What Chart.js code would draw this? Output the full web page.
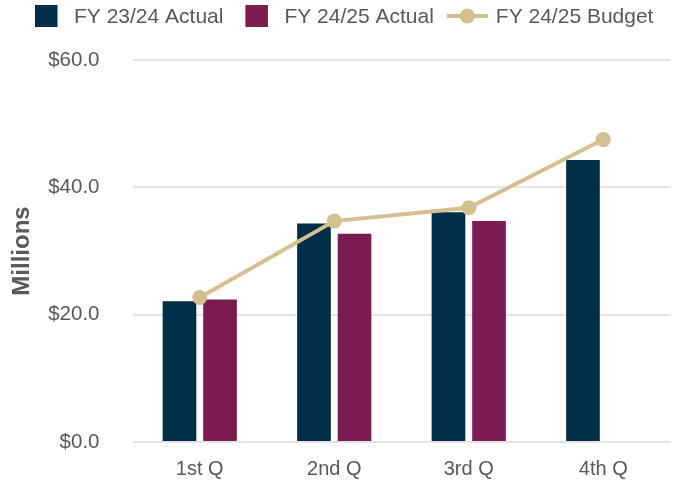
<!DOCTYPE html>
<html>
<head>
<meta charset="utf-8">
<script src="https://cdn.jsdelivr.net/npm/chart.js@4.4.1/dist/chart.umd.min.js"></script>
<style>
    html, body { margin: 0; padding: 0; background: #ffffff; overflow: hidden; }
    canvas { display: block; }
</style>
</head>
<body>
<canvas id="quarter-chart" width="678" height="482"></canvas>
<script>
const quarters = ['1st Q', '2nd Q', '3rd Q', '4th Q'];
const seriesNames = ['FY 23/24 Actual', 'FY 24/25 Actual', 'FY 24/25 Budget'];
const actual2324 = [22.1, 34.3, 36.1, 44.3];
const actual2425 = [22.4, 32.7, 34.7, null];
const budget2425 = [22.7, 34.7, 36.8, 47.5];
const yTicks = [0, 20, 40, 60];

const fontFamily = "'Liberation Sans', Arial, sans-serif";
const textGray = '#595959';
const navy = '#002e48';
const maroon = '#7b1b4f';
const gold = '#d4c08f';

// legend drawn by hand so box / line symbols and gaps match the original
const topLegend = {
    id: 'topLegend',
    afterDraw: (chart) => {
        const ctx = chart.ctx;
        const cy = 16;
        let x = 35;
        ctx.save();
        ctx.font = `21px ${fontFamily}`;
        ctx.textBaseline = 'middle';
        chart.data.datasets.forEach((ds, i) => {
            if (ds.type === 'line') {
                if (i > 0) x += 13;
                ctx.strokeStyle = ds.borderColor;
                ctx.lineWidth = ds.borderWidth;
                ctx.beginPath();
                ctx.moveTo(x, cy);
                ctx.lineTo(x + 41, cy);
                ctx.stroke();
                ctx.fillStyle = ds.pointBackgroundColor;
                ctx.beginPath();
                ctx.arc(x + 20.5, cy, ds.pointRadius, 0, Math.PI * 2);
                ctx.fill();
                x += 41 + 8;
            } else {
                if (i > 0) x += 22;
                ctx.fillStyle = ds.backgroundColor;
                ctx.fillRect(x, cy - 11, 22.5, 22);
                x += 22.5 + 16.5;
            }
            ctx.fillStyle = textGray;
            ctx.fillText(ds.label, x, cy + 1);
            x += ctx.measureText(ds.label).width;
        });
        ctx.restore();
    }
};

const ctx = document.getElementById('quarter-chart').getContext('2d');
new Chart(ctx, {
    type: 'bar',
    data: {
        labels: quarters,
        datasets: [
            {
                type: 'bar',
                label: seriesNames[0],
                data: actual2324,
                backgroundColor: navy,
                order: 1,
                categoryPercentage: 0.603,
                barPercentage: 0.83
            },
            {
                type: 'bar',
                label: seriesNames[1],
                data: actual2425,
                backgroundColor: maroon,
                order: 2,
                categoryPercentage: 0.603,
                barPercentage: 0.83
            },
            {
                type: 'line',
                label: seriesNames[2],
                data: budget2425,
                borderColor: gold,
                borderWidth: 4,
                pointBackgroundColor: gold,
                pointBorderColor: gold,
                pointBorderWidth: 0,
                pointRadius: 7.5,
                tension: 0,
                order: 0
            }
        ]
    },
    options: {
        responsive: false,
        animation: false,
        devicePixelRatio: 1,
        layout: { padding: { top: 60, right: 2, bottom: 1, left: 0 } },
        plugins: {
            legend: { display: false },
            tooltip: { enabled: false }
        },
        scales: {
            x: {
                afterFit: (scale) => { scale.height = 39; },
                grid: { display: false, drawTicks: false },
                border: { display: false },
                ticks: { color: textGray, padding: 15, font: { family: fontFamily, size: 20 } }
            },
            y: {
                min: 0,
                max: 60,
                // tick padding would otherwise leak into the vertical layout padding
                afterFit: (scale) => {
                    scale.width = 132.5;
                    scale.paddingTop = 0;
                    scale.paddingBottom = 0;
                },
                afterBuildTicks: (scale) => { scale.ticks = yTicks.map(v => ({ value: v })); },
                grid: { color: '#e4e4e4', lineWidth: 2, drawTicks: false },
                border: { display: false },
                ticks: {
                    color: textGray,
                    padding: 33,
                    font: { family: fontFamily, size: 20.5 },
                    callback: (v) => '$' + Number(v).toFixed(1)
                },
                title: {
                    display: true,
                    text: 'Millions',
                    color: textGray,
                    padding: { top: 8, bottom: 0 },
                    font: { family: fontFamily, size: 24, weight: 'bold' }
                }
            }
        }
    },
    plugins: [topLegend]
});
</script>
</body>
</html>
